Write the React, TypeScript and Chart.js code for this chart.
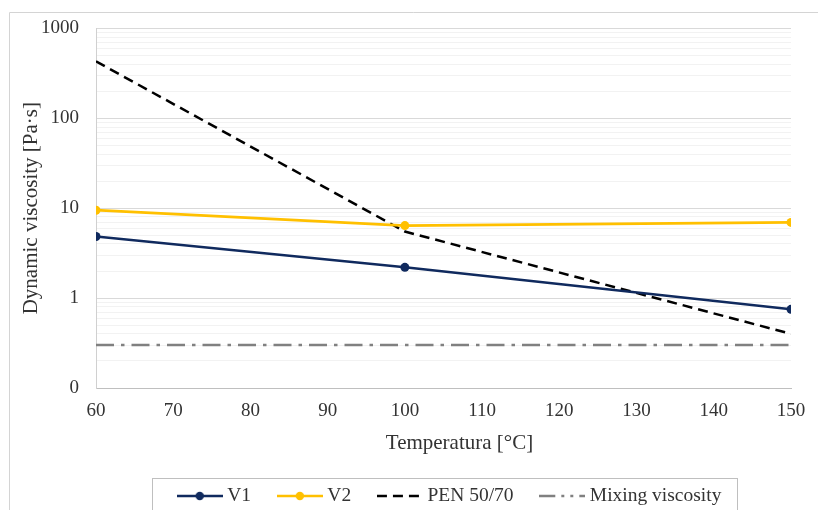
import React, { useEffect, useRef } from 'react';
import { Chart, registerables } from 'chart.js';

Chart.register(...registerables);

// Measured viscosities (Pa·s) at the test temperatures (°C)
const temperatures = [60, 100, 150];
const v1Viscosity = [4.85, 2.2, 0.75];
const v2Viscosity = [9.5, 6.4, 6.95];
const pen5070Viscosity = [430, 5.5, 0.4];
const mixingTemperatures = [60, 150];
const mixingViscosity = [0.3, 0.3];

const seriesLabels = ['V1', 'V2', 'PEN 50/70', 'Mixing viscosity'];

// Axis setup
const xMin = 60;
const xMax = 150;
const xStep = 10;
const yDecades = [0.1, 1, 10, 100, 1000];
const yDecadeLabels = ['0', '1', '10', '100', '1000'];

const xTitle = 'Temperatura [°C]';
const yTitle = 'Dynamic viscosity [Pa·s]';

const FONT = '"Liberation Serif", "Times New Roman", serif';
const TEXT = '#333333';
const COLOR_V1 = '#102a5e';
const COLOR_V2 = '#ffc000';
const COLOR_PEN = '#000000';
const COLOR_MIX = '#808080';
const DASH_PEN = [10, 6];
const DASH_MIX = [18, 7, 3.5, 7];

const TICK_SIZE = 19;
const TITLE_SIZE = 21;
const LEGEND_SIZE = 19.5;

// Minor log grid values (2..9 within each decade)
const yGridValues: number[] = [];
yDecades.forEach((d, i) => {
  yGridValues.push(d);
  if (i < yDecades.length - 1) for (let k = 2; k <= 9; k++) yGridValues.push(d * k);
});

const isDecade = (v: number) => yDecades.some((d) => Math.abs(v - d) / d < 1e-6);

function legendSample(color: string, pattern: number[], marker: boolean): HTMLCanvasElement {
  const c = document.createElement('canvas');
  c.width = 46;
  c.height = 12;
  const ctx = c.getContext('2d')!;
  ctx.strokeStyle = color;
  ctx.lineWidth = 2.5;
  ctx.setLineDash(pattern);
  ctx.beginPath();
  ctx.moveTo(0, 6);
  ctx.lineTo(46, 6);
  ctx.stroke();
  if (marker) {
    ctx.setLineDash([]);
    ctx.fillStyle = color;
    ctx.beginPath();
    ctx.arc(23, 6, 4.2, 0, Math.PI * 2);
    ctx.fill();
  }
  return c;
}

const frameAndLegendPlugin = {
  id: 'frameAndLegend',
  afterLayout(chart: any) {
    const lg = chart.legend;
    if (!lg || !lg.lineWidths) return;
    const pad = lg.options.labels.padding;
    const curX = (lg.left + pad + lg.right - lg.lineWidths[0]) / 2;
    const dx = chart.chartArea.left + 86 - curX;
    const curY = lg.top + pad + LEGEND_SIZE / 2;
    const dy = chart.height - 14 - curY;
    lg.left += dx;
    lg.right += dx;
    lg.top += dy;
    lg.bottom += dy;
  },
  beforeDraw(chart: any) {
    const ctx = chart.ctx;
    ctx.save();
    ctx.strokeStyle = '#d4d4d4';
    ctx.lineWidth = 1;
    ctx.beginPath();
    ctx.moveTo(9.5, chart.height);
    ctx.lineTo(9.5, 12.5);
    ctx.lineTo(chart.width, 12.5);
    ctx.stroke();
    ctx.restore();
  },
  afterDraw(chart: any) {
    const ctx = chart.ctx;
    const ca = chart.chartArea;
    const lg = chart.legend;
    ctx.save();
    if (lg && lg.legendHitBoxes && lg.legendHitBoxes.length) {
      const hb = lg.legendHitBoxes;
      const first = hb[0];
      const last = hb[hb.length - 1];
      const cy = first.top + LEGEND_SIZE / 2;
      const l = Math.round(first.left - 30) + 0.5;
      const r = Math.round(last.left + last.width + 16) + 0.5;
      const t = Math.round(cy - 18) + 0.5;
      const b = Math.round(cy + 22) + 0.5;
      ctx.strokeStyle = '#bfbfbf';
      ctx.lineWidth = 1;
      ctx.strokeRect(l, t, r - l, b - t);
    }
    ctx.fillStyle = TEXT;
    ctx.font = `${TITLE_SIZE}px ${FONT}`;
    ctx.textAlign = 'center';
    ctx.textBaseline = 'middle';
    ctx.fillText(xTitle, (ca.left + ca.right) / 2 + 16, ca.bottom + 55);
    ctx.restore();
  },
};

export default function App() {
  const canvasRef = useRef<HTMLCanvasElement>(null);

  useEffect(() => {
    if (!canvasRef.current) return;
    Chart.defaults.font.family = FONT;

    const samples = [
      legendSample(COLOR_V1, [], true),
      legendSample(COLOR_V2, [], true),
      legendSample(COLOR_PEN, DASH_PEN, false),
      legendSample(COLOR_MIX, [16, 6, 3, 6, 3, 6], false),
    ];

    const chart = new Chart(canvasRef.current, {
      type: 'line',
      data: {
        datasets: [
          {
            label: seriesLabels[0],
            data: temperatures.map((t, i) => ({ x: t, y: v1Viscosity[i] })),
            borderColor: COLOR_V1,
            backgroundColor: COLOR_V1,
            borderWidth: 2.5,
            pointRadius: 4.5,
            pointBorderWidth: 0,
            pointBackgroundColor: COLOR_V1,
          },
          {
            label: seriesLabels[1],
            data: temperatures.map((t, i) => ({ x: t, y: v2Viscosity[i] })),
            borderColor: COLOR_V2,
            backgroundColor: COLOR_V2,
            borderWidth: 2.75,
            pointRadius: 4.5,
            pointBorderWidth: 0,
            pointBackgroundColor: COLOR_V2,
          },
          {
            label: seriesLabels[2],
            data: temperatures.map((t, i) => ({ x: t, y: pen5070Viscosity[i] })),
            borderColor: COLOR_PEN,
            backgroundColor: COLOR_PEN,
            borderWidth: 2.5,
            borderDash: DASH_PEN,
            pointRadius: 0,
          },
          {
            label: seriesLabels[3],
            data: mixingTemperatures.map((t, i) => ({ x: t, y: mixingViscosity[i] })),
            borderColor: COLOR_MIX,
            backgroundColor: COLOR_MIX,
            borderWidth: 2.5,
            borderDash: DASH_MIX,
            pointRadius: 0,
          },
        ],
      },
      options: {
        responsive: false,
        animation: false,
        devicePixelRatio: 1,
        layout: { padding: { left: 11, right: 27, top: 28, bottom: 0 } },
        scales: {
          x: {
            type: 'linear',
            min: xMin,
            max: xMax,
            grid: { display: false, drawTicks: false },
            border: { display: true, color: '#bfbfbf', width: 1 },
            ticks: {
              stepSize: xStep,
              padding: 12,
              color: TEXT,
              font: { size: TICK_SIZE, family: FONT },
              maxRotation: 0,
            },
            afterFit: (s: any) => {
              s.height = 61.5;
            },
          },
          y: {
            type: 'logarithmic',
            min: yDecades[0],
            max: yDecades[yDecades.length - 1],
            afterBuildTicks: (s: any) => {
              s.ticks = yGridValues.map((v) => ({ value: v, major: isDecade(v) }));
            },
            afterFit: (s: any) => {
              s.width = 85;
            },
            grid: {
              drawTicks: false,
              color: (ctx: any) => {
                const v = ctx.tick ? ctx.tick.value : 0;
                if (Math.abs(v - yDecades[0]) < 1e-9) return '#bfbfbf';
                return isDecade(v) ? '#d9d9d9' : '#f2f2f2';
              },
              lineWidth: 1,
            },
            border: { display: true, color: '#d0d0d0', width: 1 },
            ticks: {
              autoSkip: false,
              padding: 17,
              color: TEXT,
              font: { size: TICK_SIZE, family: FONT },
              callback: (value: any) => {
                const v = Number(value);
                const idx = yDecades.findIndex((d) => Math.abs(v - d) / d < 1e-6);
                return idx >= 0 ? yDecadeLabels[idx] : '';
              },
            },
            title: {
              display: true,
              text: yTitle,
              color: TEXT,
              font: { size: TITLE_SIZE, family: FONT },
              padding: { top: 8, bottom: 0 },
            },
          },
        },
        plugins: {
          tooltip: { enabled: false },
          legend: {
            display: true,
            position: 'bottom',
            labels: {
              usePointStyle: true,
              pointStyleWidth: 35.5,
              padding: 31,
              color: TEXT,
              font: { size: LEGEND_SIZE, family: FONT },
              generateLabels: (c: any) =>
                c.data.datasets.map((ds: any, i: number) => ({
                  text: ds.label,
                  pointStyle: samples[i],
                  fillStyle: ds.borderColor,
                  strokeStyle: ds.borderColor,
                  lineWidth: 0,
                  hidden: false,
                  datasetIndex: i,
                  fontColor: TEXT,
                })),
            },
          },
        },
      },
      plugins: [frameAndLegendPlugin],
    } as any);

    return () => chart.destroy();
  }, []);

  return (
    <div style={{ position: 'absolute', left: 0, top: 0, width: 818, height: 510, background: '#ffffff' }}>
      <canvas ref={canvasRef} width={818} height={510} style={{ display: 'block' }} />
    </div>
  );
}
